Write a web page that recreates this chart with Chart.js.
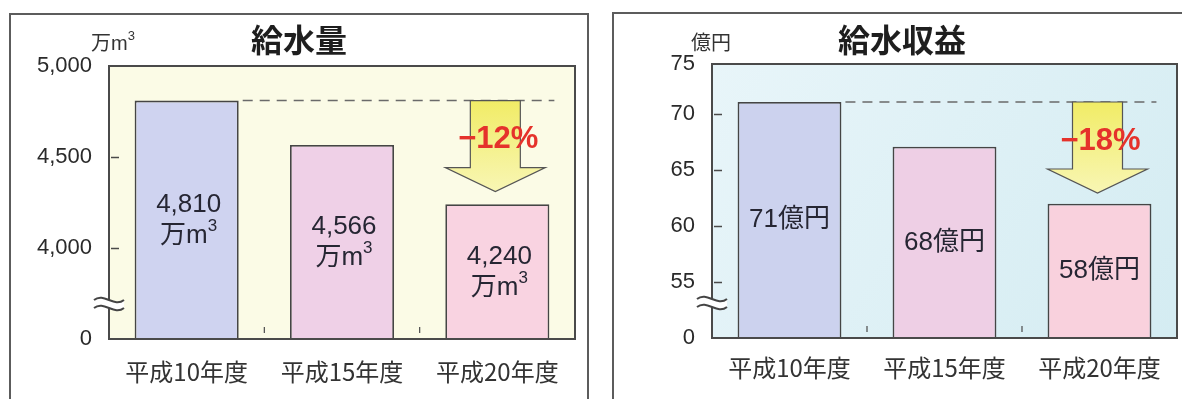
<!DOCTYPE html>
<html lang="ja">
<head>
<meta charset="utf-8">
<title>給水量・給水収益</title>
<script src="https://cdn.jsdelivr.net/npm/chart.js@4.4.1/dist/chart.umd.min.js"></script>
<style>
  html, body { margin: 0; padding: 0; background: #fff; width: 1182px; height: 399px; overflow: hidden; position: relative; }
  .panel { position: absolute; box-sizing: border-box; border: 2px solid #5c5c5c; width: 580px; height: 420px; }
  canvas { position: absolute; top: 0; }
</style>
</head>
<body>
<div class="panel" style="left:9px; top:13px;"></div>
<div class="panel" style="left:612px; top:12px;"></div>
<canvas id="waterChart" width="578" height="399" style="left:10px"></canvas>
<canvas id="revenueChart" width="578" height="399" style="left:613px"></canvas>

<script>
// categories
const years = ['平成10年度', '平成15年度', '平成20年度'];

// 給水量 (万m3)
const waterVolume = [4810, 4566, 4240];
const waterLabels = ['4,810', '4,566', '4,240'];
const waterTicks = [3500, 4000, 4500, 5000];          // bottom of broken axis is shown as "0"
const waterTickLabels = ['0', '4,000', '4,500', '5,000'];
const waterChange = '−12%';

// 給水収益 (億円) - bar heights as drawn in the picture, text as printed
const revenue = [71.1, 67.1, 62.0];
const revenueLabels = ['71億円', '68億円', '58億円'];
const revenueTicks = [50, 55, 60, 65, 70, 74.5];
const revenueTickLabels = ['0', '55', '60', '65', '70', '75'];
const revenueChange = '−18%';

const FONT_LATIN = '"Liberation Sans", Arial, "Noto Sans CJK JP", sans-serif';
const FONT_CJK = '"Noto Sans CJK JP", "Liberation Sans", sans-serif';

// draws "万m" with a raised 3
function drawCubic(ctx, x, y, size) {
    ctx.font = `${size}px ${FONT_LATIN}`;
    const w1 = ctx.measureText('万m').width;
    const small = Math.round(size * 0.65);
    ctx.font = `${small}px ${FONT_LATIN}`;
    const w2 = ctx.measureText('3').width;
    const start = x - (w1 + w2) / 2;
    ctx.textAlign = 'left';
    ctx.font = `${size}px ${FONT_LATIN}`;
    ctx.fillText('万m', start, y);
    ctx.font = `${small}px ${FONT_LATIN}`;
    ctx.fillText('3', start + w1, y - size * 0.36);
}

function decorPlugin(cfg) {
    return {
        id: 'decor',
        beforeDraw(chart) {
            const { ctx, chartArea: a } = chart;
            ctx.save();
            let fill = cfg.plotBg;
            if (Array.isArray(fill)) {
                const g = ctx.createLinearGradient(a.left, a.top, a.right, a.bottom);
                g.addColorStop(0, fill[0]);
                g.addColorStop(1, fill[1]);
                fill = g;
            }
            ctx.fillStyle = fill;
            ctx.fillRect(a.left, a.top, a.width, a.height);
            ctx.restore();
        },
        afterDatasetsDraw(chart) {
            const { ctx, chartArea: a } = chart;
            const xs = chart.scales.x;
            const ys = chart.scales.y;
            const bars = chart.getDatasetMeta(0).data;
            ctx.save();

            // plot frame
            ctx.strokeStyle = '#4a4a4a';
            ctx.lineWidth = 2;
            ctx.strokeRect(a.left, a.top, a.width, a.height);

            // small inner tick marks on y axis
            ctx.lineWidth = 1.5;
            cfg.ticks.slice(1, -1).forEach(v => {
                const y = Math.round(ys.getPixelForValue(v)) + 0.5;
                ctx.beginPath();
                ctx.moveTo(a.left + 2, y);
                ctx.lineTo(a.left + 10, y);
                ctx.stroke();
            });

            // small marks between categories
            ctx.lineWidth = 1.2;
            for (let i = 0; i < bars.length - 1; i++) {
                const x = (xs.getPixelForValue(i) + xs.getPixelForValue(i + 1)) / 2;
                ctx.beginPath();
                ctx.moveTo(x, a.bottom - 12);
                ctx.lineTo(x, a.bottom - 6);
                ctx.stroke();
            }

            // axis break mark
            const by = a.bottom - 35;
            const bx = a.left - 15;
            ctx.fillStyle = '#ffffff';
            ctx.beginPath();
            ctx.moveTo(bx, by - 4);
            ctx.bezierCurveTo(bx + 10, by - 12, bx + 20, by + 4, bx + 30, by - 4);
            ctx.lineTo(bx + 30, by + 4);
            ctx.bezierCurveTo(bx + 20, by + 12, bx + 10, by - 4, bx, by + 4);
            ctx.closePath();
            ctx.fill();
            ctx.strokeStyle = '#444';
            ctx.lineWidth = 2;
            [-4, 4].forEach(d => {
                ctx.beginPath();
                ctx.moveTo(bx, by + d);
                ctx.bezierCurveTo(bx + 10, by + d - 8, bx + 20, by + d + 8, bx + 30, by + d);
                ctx.stroke();
            });

            // labels inside bars (the bars start below the visible axis, so use the plot bottom)
            ctx.fillStyle = '#262633';
            ctx.textBaseline = 'middle';
            bars.forEach((bar, i) => {
                const cy = (bar.y + Math.min(bar.base, a.bottom)) / 2;
                ctx.textAlign = 'center';
                ctx.font = `26px ${FONT_LATIN}`;
                if (cfg.unitLine) {
                    ctx.fillText(cfg.barLabels[i], bar.x + 2, cy - 15);
                    drawCubic(ctx, bar.x + 2, cy + 16, 26);
                } else {
                    ctx.fillText(cfg.barLabels[i], bar.x, cy);
                }
            });

            // dashed reference line at the first year's level
            const top = ys.getPixelForValue(cfg.values[0]);
            const first = bars[0];
            const last = bars[bars.length - 1];
            ctx.strokeStyle = '#6a6a6a';
            ctx.lineWidth = 1.5;
            ctx.setLineDash([10, 7]);
            ctx.beginPath();
            ctx.moveTo(first.x + first.width / 2 + 4, top);
            ctx.lineTo(last.x + last.width / 2 + 5, top);
            ctx.stroke();
            ctx.setLineDash([]);

            // down arrow
            const cx = last.x - 2;
            const g = ctx.createLinearGradient(0, top, 0, top + 91);
            g.addColorStop(0, '#f1ec66');
            g.addColorStop(1, '#f8f6b4');
            ctx.fillStyle = g;
            ctx.beginPath();
            ctx.moveTo(cx - 25, top);
            ctx.lineTo(cx + 25, top);
            ctx.lineTo(cx + 25, top + 67);
            ctx.lineTo(cx + 50, top + 67);
            ctx.lineTo(cx, top + 91);
            ctx.lineTo(cx - 50, top + 67);
            ctx.lineTo(cx - 25, top + 67);
            ctx.closePath();
            ctx.fill();
            ctx.strokeStyle = '#555';
            ctx.lineWidth = 1.2;
            ctx.stroke();

            ctx.fillStyle = '#e5322b';
            ctx.font = `bold 31px ${FONT_LATIN}`;
            ctx.textAlign = 'center';
            ctx.fillText(cfg.change, cx + 3, top + 39);

            // title and unit
            ctx.fillStyle = '#1e1e1e';
            ctx.font = `bold 32px ${FONT_CJK}`;
            ctx.fillText(cfg.title, chart.width / 2, 40);
            ctx.fillStyle = '#333';
            if (cfg.unitLine) {
                drawCubic(ctx, a.left + 4, 44, 20);
            } else {
                ctx.font = `20px ${FONT_CJK}`;
                ctx.textAlign = 'center';
                ctx.fillText(cfg.unit, a.left - 1, 42);
            }
            ctx.restore();
        }
    };
}

function buildChart(id, cfg) {
    const ctx = document.getElementById(id).getContext('2d');
    return new Chart(ctx, {
        type: 'bar',
        data: {
            labels: years,
            datasets: [{
                data: cfg.values,
                backgroundColor: cfg.colors,
                borderColor: '#454545',
                borderWidth: 1.8,
                barPercentage: 0.67,
                categoryPercentage: 1
            }]
        },
        options: {
            responsive: false,
            animation: false,
            devicePixelRatio: 1,
            layout: { padding: { top: cfg.padTop, right: cfg.padRight, left: 0, bottom: 0 } },
            plugins: { legend: { display: false }, tooltip: { enabled: false } },
            scales: {
                x: {
                    grid: { display: false },
                    border: { display: false },
                    ticks: { color: '#333', font: { family: FONT_CJK, size: 24 }, padding: cfg.xPad, maxRotation: 0 },
                    afterFit: s => { s.height = cfg.xHeight; }
                },
                y: {
                    min: cfg.ticks[0],
                    max: cfg.ticks[cfg.ticks.length - 1],
                    grid: { display: false, drawTicks: false },
                    border: { display: false },
                    afterBuildTicks: s => { s.ticks = cfg.ticks.map(v => ({ value: v })); },
                    ticks: {
                        color: '#2a2a2a',
                        padding: 17,
                        font: { family: FONT_LATIN, size: 22 },
                        callback: (v, i) => cfg.tickLabels[i]
                    },
                    afterFit: s => { s.width = 99; }
                }
            }
        },
        plugins: [decorPlugin(cfg)]
    });
}

buildChart('waterChart', {
    title: '給水量',
    unitLine: true,
    values: waterVolume,
    barLabels: waterLabels,
    ticks: waterTicks,
    tickLabels: waterTickLabels,
    change: waterChange,
    colors: ['#cfd3f0', '#efd0e7', '#f9d3e1'],
    plotBg: '#fbfbe6',
    padTop: 66,
    padRight: 13,
    xHeight: 60,
    xPad: 10
});

buildChart('revenueChart', {
    title: '給水収益',
    unitLine: false,
    unit: '億円',
    values: revenue,
    barLabels: revenueLabels,
    ticks: revenueTicks,
    tickLabels: revenueTickLabels,
    change: revenueChange,
    colors: ['#ccd2ee', '#eecfe5', '#f9d1dd'],
    plotBg: ['#e8f5f9', '#d4ecf2'],
    padTop: 64,
    padRight: 14,
    xHeight: 61,
    xPad: 7
});
</script>
</body>
</html>
